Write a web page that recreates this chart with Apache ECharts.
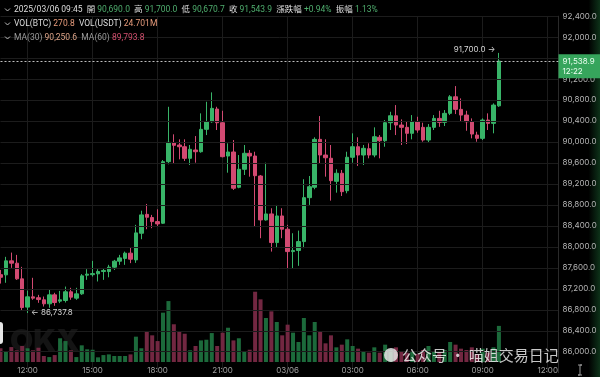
<!DOCTYPE html>
<html>
<head>
<meta charset="utf-8">
<script src="https://cdn.jsdelivr.net/npm/echarts@6/dist/echarts.min.js"></script>
<style>
  html, body { margin: 0; padding: 0; background: #000; }
  #main { width: 600px; height: 377px; }
</style>
</head>
<body>
<div id="main"></div>
<script>
// 15 minute candles, 03/05 10:45 -> 03/06 09:45
const opens = [
  87470, 87466, 87733, 87689, 87390, 86851, 87047, 87030, 86990, 86914,
  87085, 86965, 86977, 87143, 87022, 87104, 87460, 87470, 87486, 87530,
  87530, 87613, 87727, 87780, 87880, 87752, 88260, 88620, 88560, 88482,
  88451, 89625, 89987, 89943, 89910, 89689, 89848, 89815, 90242, 90387,
  90629, 90368, 89733, 89810, 89137, 89480, 89785, 89733, 89352, 88514,
  88628, 88082, 88590, 88337, 87910, 87930, 88101, 88939, 89137, 90051,
  89752, 89690, 89250, 89404, 89072, 89709, 89910, 89752, 89872, 89752,
  90090, 90025, 90368, 90501, 90324, 90280, 90166, 90387, 90280, 90038,
  90280, 90451, 90375, 90547, 90863, 90623, 90514, 90387, 90133, 90070,
  90419, 90356, 90690.0
];
const closes = [
  87420, 87733, 87689, 87390, 86843, 87047, 87022, 86995, 86914, 87085,
  86939, 86990, 87143, 87041, 87104, 87447, 87480, 87490, 87530, 87550,
  87613, 87727, 87790, 87880, 87765, 88267, 88610, 88565, 88482, 88438,
  89625, 89994, 89937, 89910, 89689, 89861, 89815, 90242, 90387, 90642,
  90368, 89720, 89810, 89118, 89480, 89785, 89733, 89358, 88514, 88628,
  88082, 88590, 88337, 87910, 87930, 88101, 88939, 89148, 90051, 89752,
  89700, 89263, 89404, 89053, 89709, 89910, 89752, 89880, 89752, 90101,
  90025, 90368, 90501, 90324, 90280, 90166, 90387, 90229, 90038, 90280,
  90451, 90375, 90547, 90863, 90623, 90514, 90387, 90152, 90070, 90419,
  90356, 90705, 91543.9
];
const lows = [
  87300, 87315, 87600, 87371, 86786, 86737.8, 86990, 86933, 86862, 86838,
  86876, 86927, 86939, 86990, 86990, 87085, 87371, 87434, 87340, 87371,
  87420, 87560, 87657, 87657, 87690, 87695, 88146, 88337, 88356, 88386,
  88438, 89575, 89594, 89670, 89638, 89562, 89606, 89796, 90133, 90368,
  90229, 89708, 89415, 89086, 89118, 89371, 89339, 88387, 88165, 88500,
  87910, 87990, 88165, 87594, 87594, 87638, 87975, 88800, 89099, 89581,
  89339, 88882, 89034, 88971, 89022, 89606, 89543, 89562, 89689, 89709,
  89689, 89910, 90229, 90133, 89943, 89962, 90051, 90177, 90006, 90000,
  90229, 90290, 90305, 90514, 90533, 90387, 90215, 90070, 90006, 90038,
  90229, 90166, 90670.7
];
const highs = [
  87560, 87810, 87891, 87847, 87619, 87167, 87410, 87085, 87053, 87180,
  87124, 87160, 87243, 87219, 87219, 87480, 87575, 87733, 87575, 87594,
  87657, 87752, 87847, 87910, 87980, 88420, 88690, 88819, 88610, 88717,
  89657, 90672, 90147, 90051, 90051, 89943, 90114, 90547, 90768, 90947,
  90672, 90596, 89975, 90038, 89752, 89943, 89848, 89815, 89371, 89606,
  88737, 88800, 88737, 88420, 88260, 88310, 89290, 89352, 90090, 90495,
  90051, 89943, 89480, 89467, 89815, 90166, 90090, 89943, 89975, 90280,
  90133, 90419, 90577, 90705, 90432, 90387, 90514, 90482, 90368, 90343,
  90514, 90596, 90610, 90895, 91067, 90832, 90596, 90451, 90196, 90451,
  90547, 90737, 91700.0
];
// volume in BTC
const volumes = [
  103, 82, 112, 88, 120, 103, 88, 107, 45, 37,
  52, 178, 157, 88, 37, 125, 95, 92, 35, 52,
  57, 45, 45, 45, 57, 190, 103, 225, 200, 157,
  370, 457, 283, 227, 212, 88, 120, 162, 167, 217,
  120, 220, 257, 162, 178, 82, 92, 527, 470, 330,
  380, 300, 200, 280, 220, 150, 330, 200, 300, 230,
  140, 200, 110, 130, 170, 120, 100, 80, 70, 110,
  70, 130, 90, 110, 80, 70, 80, 60, 90, 120,
  80, 70, 90, 150, 130, 100, 90, 110, 60, 100,
  70, 110, 270.8
];

const tickTimes = ['03/05 12:00', '03/05 15:00', '03/05 18:00', '03/05 21:00', '03/06 00:00',
  '03/06 03:00', '03/06 06:00', '03/06 09:00', '03/06 12:00'];
const tickLabels = ['12:00', '15:00', '18:00', '21:00', '03/06', '03:00', '06:00', '09:00', '12:00'];

const lastPrice = 91538.9;
const countdown = '12:22';

// time slots (empty ones on the right keep the space before the price axis)
function pad(n) { return n < 10 ? '0' + n : '' + n; }
const slotCount = 104;
const times = [];
for (let i = 0; i < slotCount; i++) {
  const m = 10 * 60 + 45 + i * 15;
  const day = m >= 1440 ? '03/06' : '03/05';
  const hm = m % 1440;
  times.push(day + ' ' + pad(Math.floor(hm / 60)) + ':' + pad(hm % 60));
}

const UP = '#38b468';
const DOWN = '#d24a72';
const VOL_UP = '#1c6a3b';
const VOL_DOWN = '#722741';
const FONT = 'Inter, "Noto Sans CJK TC", sans-serif';
const HEAD_FONT = 'Roboto, "Noto Sans CJK TC", sans-serif';

function fmt(v) {
  return v.toLocaleString('en-US', { minimumFractionDigits: 1, maximumFractionDigits: 1 });
}
const isTick = (idx, value) => tickTimes.indexOf(value) >= 0;

const candleData = opens.map((o, i) => [o, closes[i], lows[i], highs[i]]);
const volData = volumes.map((v, i) => ({
  value: v,
  itemStyle: { color: closes[i] >= opens[i] ? VOL_UP : VOL_DOWN },
}));

const chevron = (y) => ({
  type: 'polyline',
  shape: { points: [[5, y - 1.5], [7.5, y + 1], [10, y - 1.5]] },
  style: { stroke: '#bbb', lineWidth: 1, fill: null },
  z: 20,
});

const option = {
  backgroundColor: '#000',
  animation: false,
  textStyle: { fontFamily: FONT },
  grid: [
    { left: 0.5, width: 558, top: 16.2, height: 356.5 },
    { left: 0.5, width: 558, top: 282, height: 80 },
  ],
  xAxis: [
    {
      type: 'category', gridIndex: 0, data: times, boundaryGap: false,
      axisLine: { show: false }, axisTick: { show: false }, axisLabel: { show: false },
      splitLine: { show: true, interval: isTick, lineStyle: { color: '#1c1c1c' } },
    },
    {
      type: 'category', gridIndex: 1, data: times, boundaryGap: false,
      axisLine: { show: false }, axisTick: { show: false },
      axisLabel: {
        interval: isTick, margin: 5, color: '#a0a0a0', fontSize: 8, fontFamily: FONT,
        formatter: (v) => tickLabels[tickTimes.indexOf(v)],
      },
      splitLine: { show: false },
    },
  ],
  yAxis: [
    {
      type: 'value', gridIndex: 0, position: 'right', min: 85600, max: 92400, interval: 400, z: 4,
      axisLine: { show: true, lineStyle: { color: '#2a2a2a' } }, axisTick: { show: false },
      axisLabel: {
        margin: 4, color: '#b5b5b5', fontSize: 8, fontFamily: FONT,
        formatter: (v) => (v < 86000 ? '' : fmt(v)),
      },
      splitLine: { show: true, showMinLine: false, lineStyle: { color: '#1c1c1c' } },
    },
    { type: 'value', gridIndex: 1, min: 0, max: 600, show: false },
  ],
  series: [
    {
      type: 'bar', xAxisIndex: 1, yAxisIndex: 1, data: volData, barWidth: 4, z: 1,
    },
    {
      type: 'candlestick', xAxisIndex: 0, yAxisIndex: 0, data: candleData, barWidth: 4,
      itemStyle: { color: UP, color0: DOWN, borderColor: UP, borderColor0: DOWN, borderWidth: 1 },
      markPoint: {
        symbol: 'circle', symbolSize: 1, itemStyle: { color: 'rgba(0,0,0,0)' },
        label: { color: '#d6d6d6', fontSize: 8, fontFamily: FONT },
        data: [
          { type: 'max', valueDim: 'highest', label: { position: 'left', distance: 3, offset: [0, -3], formatter: (p) => fmt(p.value) + ' \u2192' } },
          { type: 'min', valueDim: 'lowest', label: { position: 'right', distance: 3, formatter: (p) => '\u2190 ' + fmt(p.value) } },
        ],
      },
      markLine: {
        symbol: 'none', silent: true, z: 6,
        lineStyle: { color: '#bdbdbd', type: [2, 2], width: 1 },
        label: {
          position: 'end', distance: 0, offset: [0, 5],
          formatter: fmt(lastPrice) + '\n' + countdown,
          backgroundColor: '#36a55c', color: '#eafff0', fontSize: 8, lineHeight: 10,
          padding: [2, 8, 2, 4], fontFamily: FONT, align: 'left',
        },
        data: [{ yAxis: lastPrice }],
      },
    },
  ],
  graphic: [
    // price axis panel
    {
      type: 'rect', z: 3, silent: true,
      shape: { x: 559, y: 0, width: 41, height: 377 },
      style: {
        fill: new echarts.graphic.LinearGradient(0, 0, 1, 0, [
          { offset: 0, color: '#000' }, { offset: 0.72, color: '#000' }, { offset: 1, color: '#0d3219' },
        ]),
      },
    },
    // OKX watermark
    {
      type: 'text', z: 0, silent: true,
      style: { x: 10, y: 342, text: 'OKX', font: '900 30px ' + FONT, fill: '#141414', verticalAlign: 'middle' },
    },
    // side handle
    { type: 'rect', z: 20, shape: { x: -4, y: 322, width: 7, height: 22, r: 3 }, style: { fill: '#e6e6e6' } },
    // header
    chevron(10), chevron(24), chevron(38),
    {
      type: 'text', z: 20,
      style: {
        x: 14, y: 10, verticalAlign: 'middle', font: '8.5px ' + HEAD_FONT,
        text: '{w|2025/03/06 09:45}  {w|開} {g|90,690.0}  {w|高} {g|91,700.0}  {w|低} {g|90,670.7}  {w|收} {g|91,543.9}  {w|漲跌幅} {g|+0.94%}  {w|振幅} {g|1.13%}',
        rich: {
          w: { fill: '#dedede', fontSize: 8.5, fontFamily: HEAD_FONT },
          g: { fill: '#4fae6e', fontSize: 8.5, fontFamily: HEAD_FONT },
        },
      },
    },
    {
      type: 'text', z: 20,
      style: {
        x: 14, y: 24, verticalAlign: 'middle', font: '8.5px ' + HEAD_FONT,
        text: '{w|VOL(BTC)} {o|270.8}  {w|VOL(USDT)} {o|24.701M}',
        rich: {
          w: { fill: '#dedede', fontSize: 8.5, fontFamily: HEAD_FONT },
          o: { fill: '#e89c7c', fontSize: 8.5, fontFamily: HEAD_FONT },
        },
      },
    },
    {
      type: 'text', z: 20,
      style: {
        x: 14, y: 38, verticalAlign: 'middle', font: '8.5px ' + HEAD_FONT,
        text: '{m|MA(30)} {o|90,250.6}  {m|MA(60)} {r|89,793.8}',
        rich: {
          m: { fill: '#9a9a9a', fontSize: 8.5, fontFamily: HEAD_FONT },
          o: { fill: '#dfa68a', fontSize: 8.5, fontFamily: HEAD_FONT },
          r: { fill: '#d4506f', fontSize: 8.5, fontFamily: HEAD_FONT },
        },
      },
    },
    // account watermark
    { type: 'circle', z: 20, shape: { cx: 391, cy: 355, r: 7 }, style: { fill: 'rgba(230,230,230,0.85)' } },
    {
      type: 'text', z: 20,
      style: {
        x: 402, y: 355, verticalAlign: 'middle', text: '公众号 · 喵姐交易日记',
        font: '15px "Noto Sans CJK SC", sans-serif', fill: 'rgba(255,255,255,0.78)',
      },
    },
    // cursor icon
    {
      type: 'polyline', z: 20,
      shape: { points: [[578, 365], [582, 365], [580, 365], [580, 375], [578, 375], [582, 375]] },
      style: { stroke: '#9a9a9a', lineWidth: 1, fill: null },
    },
  ],
};

const myChart = echarts.init(document.getElementById('main'));
myChart.setOption(option);
</script>
</body>
</html>
